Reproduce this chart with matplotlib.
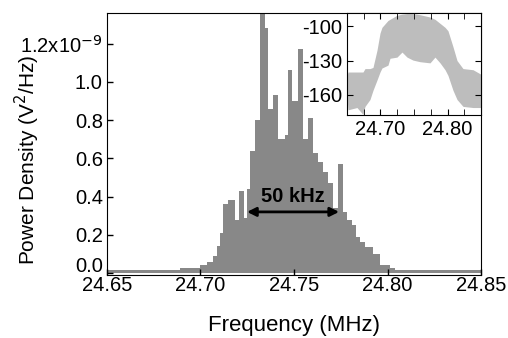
import numpy as np
import matplotlib
matplotlib.use("Agg")
import matplotlib.pyplot as plt

plt.rcParams['font.family'] = ['Liberation Sans', 'DejaVu Sans']
plt.rcParams['axes.unicode_minus'] = False

# main spectrum, stepped (edges in MHz, power in 1e-9 V^2/Hz)
freq_edges = [24.650, 24.6891, 24.6998, 24.7035, 24.7067, 24.7089, 24.7105, 24.7121,
              24.7147, 24.7185, 24.7206, 24.7233, 24.7249, 24.7265, 24.7292, 24.7319,
              24.7345, 24.7361, 24.7388, 24.7415, 24.7452, 24.7468, 24.7490, 24.7522,
              24.7549, 24.7575, 24.7602, 24.7629, 24.7656, 24.7682, 24.7709, 24.7736,
              24.7763, 24.7784, 24.7811, 24.7832, 24.7854, 24.7880, 24.7923, 24.7961,
              24.8014, 24.8041, 24.850]
power = [0.018, 0.025, 0.04, 0.06, 0.09, 0.14, 0.21, 0.36, 0.38, 0.28, 0.43, 0.29,
         0.44, 0.64, 0.80, 1.45, 1.28, 0.86, 0.93, 0.70, 0.72, 1.06, 0.90, 1.17, 0.70,
         0.81, 0.63, 0.58, 0.53, 0.47, 0.34, 0.57, 0.32, 0.28, 0.25, 0.19, 0.16, 0.135,
         0.10, 0.04, 0.025, 0.018]

# inset band (dB), upper and lower envelope
inset_f = [24.650, 24.6515, 24.6649, 24.6739, 24.6769, 24.6843, 24.6888, 24.6948,
           24.6993, 24.7022, 24.7112, 24.7142, 24.7246, 24.7321, 24.7396, 24.7485,
           24.7590, 24.7739, 24.7813, 24.7888, 24.7963, 24.8007, 24.8082, 24.8142,
           24.8231, 24.8381, 24.850]
inset_hi = [-144, -140, -140, -140, -137, -137, -136, -121, -106, -101, -95, -94,
            -90.5, -89.5, -89, -89, -90, -92, -94, -97.5, -101, -104, -118, -130,
            -137, -138, -142]
inset_lo = [-162, -173, -171, -177, -170, -164, -156, -147, -140, -136.5, -134, -128,
            -127, -122.6, -127, -129.6, -131, -132, -127, -132, -138, -143, -156, -164,
            -170, -171, -171]

yticks = [0.0, 0.2, 0.4, 0.6, 0.8, 1.0, 1.2]
ylabels = ['', '0.2', '0.4', '0.6', '0.8', '1.0', '1.2x10$^{-9}$']

fig = plt.figure(figsize=(5.08, 3.38), dpi=100)
ax = fig.add_axes([0.2106, 0.1864, 0.7363, 0.7751])
ax.stairs(power, freq_edges, fill=True, color='#888888', lw=0)
ax.set_xlim(24.65, 24.85)
ax.set_ylim(-0.01, 1.36)
ax.set_xticks([24.65, 24.70, 24.75, 24.80, 24.85])
ax.set_xticklabels(['24.65', '24.70', '24.75', '24.80', '24.85'])
ax.set_yticks(yticks)
ax.set_yticklabels(ylabels)
ax.tick_params(direction='in', length=4, labelsize=14.5, width=1)
ax.tick_params(axis='x', pad=1)
ax.tick_params(axis='y', pad=3)
# the 0.0 label sits a little higher than its tick in the original
ax.annotate('0.0', xy=(0, 0), xycoords=('axes fraction', 'data'),
            xytext=(-3, -2), textcoords='offset points',
            ha='right', va='bottom', fontsize=14.5)
ax.set_xlabel('Frequency (MHz)', fontsize=16)
ax.set_ylabel('Power Density (V$^2$/Hz)', fontsize=15)
ax.xaxis.set_label_coords(0.5, -0.152)
ax.yaxis.set_label_coords(-0.175, 0.44)

ax.annotate('', xy=(24.7249, 0.32), xytext=(24.7741, 0.32),
            arrowprops=dict(arrowstyle='<|-|>', color='black', lw=2,
                            mutation_scale=13, shrinkA=0, shrinkB=0))
ax.text(24.7495, 0.40, '50 kHz', fontsize=14.5, fontweight='bold',
        ha='center', va='center')

ins = fig.add_axes([0.683, 0.6598, 0.2639, 0.3017])
ins.fill_between(inset_f, inset_lo, inset_hi, color='#bdbdbd', lw=0)
ins.set_xlim(24.65, 24.85)
ins.set_ylim(-177.5, -88.5)
ins.set_xticks([24.70, 24.80])
ins.set_xticklabels(['24.70', '24.80'])
ins.set_xticks(np.arange(24.675, 24.85, 0.025), minor=True)
ins.set_yticks([-100, -130, -160])
ins.tick_params(which='both', direction='in', top=True, right=True,
                length=4, labelsize=14.5, pad=3.5)

fig.savefig('out.png', dpi=100)
